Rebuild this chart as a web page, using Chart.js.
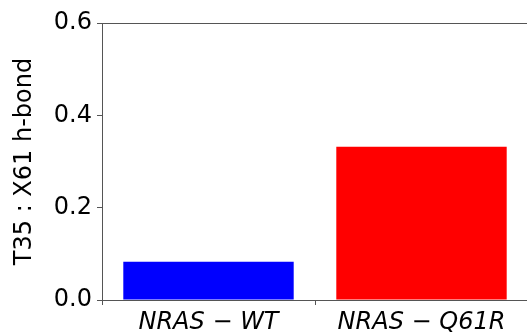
<!DOCTYPE html>
<html>
<head>
<meta charset="utf-8">
<script src="https://cdn.jsdelivr.net/npm/chart.js@4"></script>
<style>
	body { margin: 0; background: #fff; }
	#wrap { width: 527px; height: 332px; overflow: hidden; }
</style>
</head>
<body>
<div id="wrap"><canvas id="myChart" width="540" height="332"></canvas></div>
<script>
'use strict';
const categories = ['NRAS \u2212 WT', 'NRAS \u2212 Q61R'];
const hbondValues = [0.083, 0.332];
const barColors = ['#0000ff', '#ff0000'];
const yTicks = [0.0, 0.2, 0.4, 0.6];

const spineColor = '#555';

// draws the top spine (matplotlib box)
const topSpine = {
	id: 'topSpine',
	afterDraw(chart) {
		const { ctx, chartArea } = chart;
		ctx.save();
		ctx.strokeStyle = spineColor;
		ctx.lineWidth = 1;
		ctx.beginPath();
		ctx.moveTo(chartArea.left, chartArea.top + 0.5);
		ctx.lineTo(chartArea.right, chartArea.top + 0.5);
		ctx.moveTo(chartArea.right - 0.5, chartArea.top);
		ctx.lineTo(chartArea.right - 0.5, chartArea.bottom);
		ctx.stroke();
		ctx.restore();
	},
};

const ctx = document.getElementById('myChart');
const chart = new Chart(ctx, {
	type: 'bar',
	data: {
		labels: categories,
		datasets: [
			{
				data: hbondValues,
				backgroundColor: barColors,
				borderWidth: 0,
				categoryPercentage: 1.0,
				barPercentage: 0.8,
			},
		],
	},
	options: {
		responsive: false,
		animation: false,
		layout: { padding: { top: 23, left: 0, right: 12, bottom: 0 } },
		plugins: { legend: { display: false }, tooltip: { enabled: false } },
		scales: {
			x: {
				grid: { drawOnChartArea: false, tickLength: 5, tickColor: spineColor },
				border: { color: spineColor },
				ticks: {
					color: '#000',
					padding: 3,
					maxRotation: 0,
					font: { family: 'DejaVu Sans', size: 24, style: 'italic' },
				},
				afterFit(scale) {
					scale.height = 32;
				},
			},
			y: {
				min: 0,
				max: 0.6,
				afterBuildTicks(scale) {
					scale.ticks = yTicks.map((v) => ({ value: v }));
				},
				grid: { drawOnChartArea: false, tickLength: 5, tickColor: spineColor },
				border: { color: spineColor },
				ticks: {
					color: '#000',
					padding: 5,
					font: { family: 'DejaVu Sans', size: 24 },
					callback: (v) => Number(v).toFixed(1),
				},
				title: {
					display: true,
					text: 'T35 : X61 h-bond',
					color: '#000',
					padding: { top: 10, bottom: 0 },
					font: { family: 'DejaVu Sans', size: 24 },
				},
				afterFit(scale) {
					scale.width = 102;
				},
			},
		},
	},
	plugins: [topSpine],
});
</script>
</body>
</html>
